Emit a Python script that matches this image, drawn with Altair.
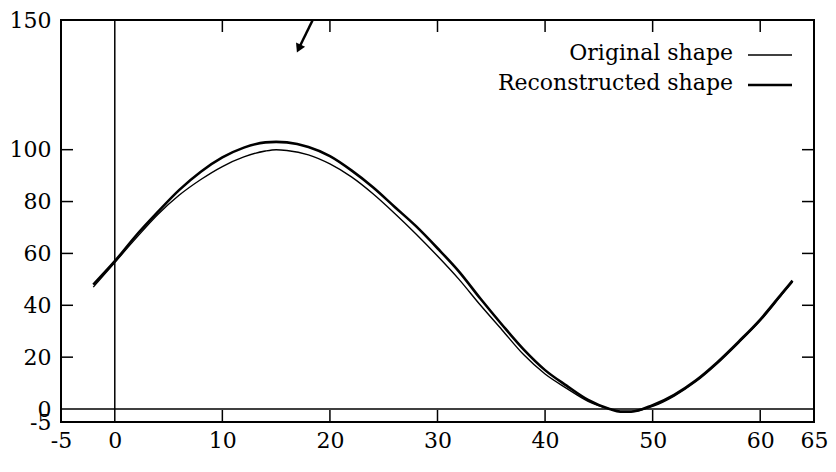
import altair as alt
import pandas as pd

# ---- data ----
x_vals = [-2, 0, 2, 4, 6, 8, 10, 12, 14, 15, 16, 18, 20, 22, 24, 26, 28, 30, 32, 34,
          36, 38, 40, 42, 44, 46, 47, 48, 50, 52, 54, 56, 58, 60, 62, 63]
original_y = [47, 56.5, 66, 75, 82.5, 88.5, 93.5, 97.2, 99.5, 100, 99.7, 98, 94.5, 89.5, 83,
              75.5, 67.5, 59, 50, 40, 30.5, 21, 13.5, 8, 3, 0, -1, -1, 1, 5,
              10.5, 17.5, 25.5, 34, 44, 49]
recon_y = [48, 57, 67, 76, 84.5, 91.5, 97, 100.8, 102.8, 103, 102.8, 101, 97.5, 92, 85.5,
           78, 70.5, 62, 53, 42.5, 32.5, 23, 15, 9, 3.5, 0, -1, -1, 1.5, 5.5, 11,
           18, 26, 34.5, 44.5, 49.5]
series = ["Original shape", "Reconstructed shape"]
series_widths = [1.4, 2.6]

x_label_values = [-5, 0, 10, 20, 30, 40, 50, 60, 65]
y_label_values = [-5, 0, 20, 40, 60, 80, 100, 150]
x_tick_marks = [10, 20, 30, 40, 50, 60]
y_tick_marks = [20, 40, 60, 80, 100]
arrow_x = [18.4, 17.1]
arrow_y = [150, 139]

W, H = 753, 402
FONT = "DejaVu Serif"
FS = 22
TICK = 12

xscale = alt.Scale(domain=[-5, 65], nice=False, zero=False)
yscale = alt.Scale(domain=[-5, 150], nice=False, zero=False)
swscale = alt.Scale(domain=series, range=series_widths)

rows = []
for xv, a, b in zip(x_vals, original_y, recon_y):
    rows.append({"x": xv, "y": a, "series": series[0]})
    rows.append({"x": xv, "y": b, "series": series[1]})
df = pd.DataFrame(rows)

xaxis = alt.Axis(values=x_label_values, ticks=False, domain=False, grid=False,
                 labelFont=FONT, labelFontSize=FS, labelColor="black",
                 labelFlush=False, labelOverlap=False, labelPadding=8,
                 title=None, labelExpr="'' + datum.value")
yaxis = alt.Axis(values=y_label_values, ticks=False, domain=False, grid=False,
                 labelFont=FONT, labelFontSize=FS, labelColor="black",
                 labelFlush=False, labelOverlap=False, labelPadding=10,
                 title=None, labelExpr="'' + datum.value")


def X():
    return alt.X("x:Q", scale=xscale, axis=xaxis)


def Y():
    return alt.Y("y:Q", scale=yscale, axis=yaxis)


lines = alt.Chart(df).mark_line(color="black", interpolate="monotone").encode(
    x=X(), y=Y(),
    detail="series:N",
    strokeWidth=alt.StrokeWidth("series:N", scale=swscale, legend=None),
)

zero_h = alt.Chart(pd.DataFrame({"y": [0]})).mark_rule(color="black", strokeWidth=1.5).encode(y=Y())
zero_v = alt.Chart(pd.DataFrame({"x": [0]})).mark_rule(color="black", strokeWidth=1.5).encode(x=X())

xt = pd.DataFrame({"x": x_tick_marks})
yt = pd.DataFrame({"y": y_tick_marks})
tick_b = alt.Chart(xt).mark_rule(color="black", strokeWidth=1.5).encode(
    x=X(), y=alt.value(H), y2=alt.value(H - TICK))
tick_t = alt.Chart(xt).mark_rule(color="black", strokeWidth=1.5).encode(
    x=X(), y=alt.value(0), y2=alt.value(TICK))
tick_l = alt.Chart(yt).mark_rule(color="black", strokeWidth=1.5).encode(
    y=Y(), x=alt.value(0), x2=alt.value(TICK))
tick_r = alt.Chart(yt).mark_rule(color="black", strokeWidth=1.5).encode(
    y=Y(), x=alt.value(W - TICK), x2=alt.value(W))

adf = pd.DataFrame({"x": arrow_x, "y": arrow_y})
arrow_line = alt.Chart(adf).mark_line(color="black", strokeWidth=2.5).encode(x=X(), y=Y())
arrow_head = alt.Chart(adf.iloc[[1]]).mark_point(
    shape="triangle-up", filled=True, size=100, color="black", opacity=1, angle=205
).encode(x=X(), y=Y())

legend_layers = []
for i, name in enumerate(series):
    ldf = pd.DataFrame({"series": [name]})
    ty = 33 + 30 * i
    legend_layers.append(
        alt.Chart(ldf).mark_text(align="right", baseline="middle", font=FONT,
                                 fontSize=22, color="black").encode(
            text="series:N", x=alt.value(672), y=alt.value(ty)))
    legend_layers.append(
        alt.Chart(ldf).mark_rule(color="black").encode(
            x=alt.value(687), x2=alt.value(731), y=alt.value(ty + 2),
            strokeWidth=alt.StrokeWidth("series:N", scale=swscale, legend=None)))

chart = alt.layer(
    lines, zero_h, zero_v, tick_b, tick_t, tick_l, tick_r,
    arrow_line, arrow_head, *legend_layers
).properties(
    width=W, height=H,
    autosize=alt.AutoSizeParams(type="none"),
    padding={"left": 53, "top": 12, "right": 14, "bottom": 40},
    background="white",
).configure_view(stroke="black", strokeWidth=2)

chart.save("out.html", embed_options={"renderer": "svg", "actions": False})
